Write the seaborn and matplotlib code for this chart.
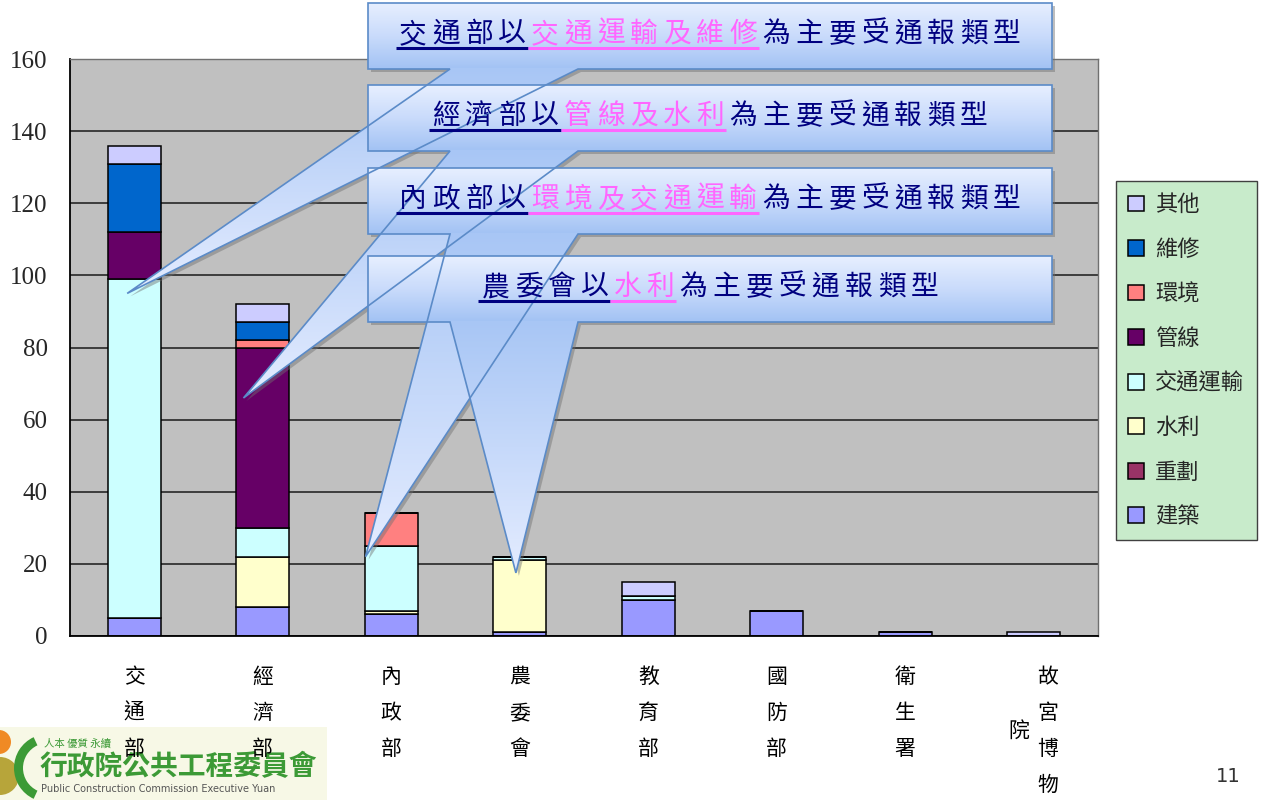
import numpy as np
import matplotlib
matplotlib.use("Agg")
import matplotlib.pyplot as plt
from matplotlib.patches import Polygon, Rectangle, Circle, Wedge
from matplotlib.colors import LinearSegmentedColormap
import seaborn as sns

sns.set_style("white")
plt.rcParams['font.family'] = ['Noto Sans CJK TC', 'DejaVu Sans']

# ---------------- data ----------------
categories = ['交通部', '經濟部', '內政部', '農委會', '教育部', '國防部', '衛生署', '故宮博物院']
# stacked from bottom to top
series_names = ['建築', '重劃', '水利', '交通運輸', '管線', '環境', '維修', '其他']
v_build   = [5, 8, 6, 1, 10, 7, 1, 0]
v_rezone  = [0, 0, 0, 0, 0, 0, 0, 0]
v_water   = [0, 14, 1, 20, 0, 0, 0, 0]
v_traffic = [94, 8, 18, 1, 1, 0, 0, 0]
v_pipe    = [13, 50, 0, 0, 0, 0, 0, 0]
v_env     = [0, 2, 9, 0, 0, 0, 0, 0]
v_repair  = [19, 5, 0, 0, 0, 0, 0, 0]
v_other   = [5, 5, 0, 0, 4, 0, 0, 1]
series_values = [v_build, v_rezone, v_water, v_traffic, v_pipe, v_env, v_repair, v_other]
series_colors = ['#9999FF', '#993366', '#FFFFCC', '#CCFFFF', '#660066', '#FF8080', '#0066CC', '#CCCCFF']
y_ticks = [0, 20, 40, 60, 80, 100, 120, 140, 160]

# callouts: (segments, tip category index, tip x offset, tip y value)
callouts = [
    ([('交通部以', '#000080', True), ('交通運輸及維修', '#FF66FF', True), ('為主要受通報類型', '#000080', False)], 0, -0.055, 95),
    ([('經濟部以', '#000080', True), ('管線及水利', '#FF66FF', True), ('為主要受通報類型', '#000080', False)], 1, -0.15, 66),
    ([('內政部以', '#000080', True), ('環境及交通運輸', '#FF66FF', True), ('為主要受通報類型', '#000080', False)], 2, -0.2, 22),
    ([('農委會以', '#000080', True), ('水利', '#FF66FF', True), ('為主要受通報類型', '#000080', False)], 3, -0.03, 17.5),
]

W, H = 1266, 800
fig = plt.figure(figsize=(W / 100, H / 100), dpi=100)
fig.patch.set_facecolor('white')

# ---------------- background (logo, page number) ----------------
bg = fig.add_axes([0, 0, 1, 1], zorder=0)
bg.set_xlim(0, W); bg.set_ylim(H, 0); bg.axis('off')
bg.add_patch(Rectangle((0, 727), 327, 73, color='#F7F8E6', lw=0))
bg.add_patch(Circle((-1, 742), 12, color='#F08A24', lw=0))
bg.add_patch(Circle((0, 776), 19, color='#B7A53A', lw=0))
bg.add_patch(Wedge((48, 768), 34, 115, 245, width=9, color='#3C9A36', lw=0))
bg.text(44, 744, '人本 優質 永續', fontsize=7.5, color='#3C9A36', ha='left', va='center')
bg.text(40, 767, '行政院公共工程委員會', fontsize=20, color='#3C9A36', ha='left', va='center', fontweight='bold')
bg.text(41, 789, 'Public Construction Commission Executive Yuan', fontsize=7, color='#555555',
        ha='left', va='center', family=['DejaVu Sans'])
bg.text(1228, 777, '11', fontsize=14, color='#333333', ha='center', va='center', family=['DejaVu Sans'])

# ---------------- main chart ----------------
ax = fig.add_axes([70 / W, (H - 636) / H, 1028 / W, 577 / H], zorder=1)
ax.set_facecolor('#C0C0C0')

bottoms = np.zeros(len(categories))
for name, vals, col in zip(series_names, series_values, series_colors):
    sns.barplot(x=categories, y=vals, order=categories, color=col, saturation=1,
                width=0.41, edgecolor='black', linewidth=1.1, bottom=bottoms,
                errorbar=None, label=name, ax=ax)
    bottoms = bottoms + np.array(vals)

ax.set_xlim(-0.5, len(categories) - 0.5)
ax.set_ylim(0, 160)
ax.set_yticks(y_ticks)
ax.set_yticklabels([str(t) for t in y_ticks], family=['Liberation Serif'], fontsize=18)
ax.yaxis.grid(True, color='#1A1A1A', lw=1.1)
ax.set_axisbelow(True)
ax.set_xlabel(''); ax.set_ylabel('')
ax.set_xticks(range(len(categories)))
ax.set_xticklabels([])
ax.set_xticks(np.arange(-0.5, len(categories), 1.0), minor=True)
ax.tick_params(axis='x', which='major', length=0)
ax.tick_params(axis='x', which='minor', direction='in', length=7, width=1, color='black')
ax.tick_params(axis='y', direction='in', length=6, width=1, color='black', pad=16)
for s in ['left', 'bottom']:
    ax.spines[s].set_color('black'); ax.spines[s].set_linewidth(1.3)
for s in ['top', 'right']:
    ax.spines[s].set_color('#707070'); ax.spines[s].set_linewidth(1.0)

# vertical category labels
for i, name in enumerate(categories):
    chars = list(name)
    if len(chars) == 5:
        placements = [(14, 41 + 36 * j) for j in range(4)] + [(-15, 95)]
    else:
        placements = [(0, 41 + 36 * j) for j in range(len(chars))]
    for ch, (dx, dy) in zip(chars, placements):
        ax.annotate(ch, xy=(i, 0), xycoords=('data', 'axes fraction'),
                    xytext=(dx * 0.72, -dy * 0.72), textcoords='offset points',
                    ha='center', va='center', fontsize=15, color='black', annotation_clip=False)

# legend
handles, labels = ax.get_legend_handles_labels()
leg = ax.legend(handles[::-1], labels[::-1], loc='upper left',
                bbox_to_anchor=(1116 / W, 1 - 181 / H), bbox_transform=fig.transFigure,
                frameon=True, fancybox=False, framealpha=1, facecolor='#C8EBCB',
                edgecolor='#404040', fontsize=16, handlelength=0.72, handleheight=0.72,
                handletextpad=0.5, labelspacing=0.97, borderpad=0.55, borderaxespad=0)
leg.get_frame().set_linewidth(1.0)

# ---------------- callouts overlay ----------------
ov = fig.add_axes([0, 0, 1, 1], zorder=3)
ov.set_xlim(0, W); ov.set_ylim(H, 0); ov.axis('off')
ov.patch.set_alpha(0)
ov.set_autoscale_on(False)

box_cmap = LinearSegmentedColormap.from_list('box', ['#E7EFFF', '#C9DBFB', '#A2C2F4'])
tail_cmap = LinearSegmentedColormap.from_list('tail', ['#A8C6F5', '#E4ECFF'])
grad = np.linspace(0, 1, 256).reshape(-1, 1)

boxes_y = [(3, 69), (85, 151), (168, 234), (256, 322)]
bx0, bx1 = 368, 1052
base_l, base_r = 450, 578
pitch = 33

for (segs, ci, dxo, yv), (y0, y1) in zip(callouts, boxes_y):
    tdx, tdy = ax.transData.transform((ci + dxo, yv))
    tipx, tipy = tdx, H - tdy
    pts = [(bx0, y0), (bx1, y0), (bx1, y1), (base_r, y1), (tipx, tipy), (base_l, y1), (bx0, y1)]
    shadow = Polygon([(x + 3, y + 3) for x, y in pts], closed=True, facecolor='#707070',
                     alpha=0.45, edgecolor='none')
    ov.add_patch(shadow)
    poly = Polygon(pts, closed=True, facecolor='none', edgecolor='#5B8BC8', lw=1.2, zorder=3)
    ov.add_patch(poly)
    clip = Polygon(pts, closed=True, facecolor='none', edgecolor='none')
    ov.add_patch(clip)
    im1 = ov.imshow(grad, extent=(bx0, bx1, y1, y0), aspect='auto', cmap=box_cmap, zorder=2)
    im1.set_clip_path(clip)
    im2 = ov.imshow(grad, extent=(min(tipx, base_l) - 2, max(tipx, base_r) + 2, max(tipy, y1), y1 - 0.5),
                    aspect='auto', cmap=tail_cmap, zorder=2)
    im2.set_clip_path(clip)

    text = ''.join(s[0] for s in segs)
    n = len(text)
    start = (bx0 + bx1) / 2 - n * pitch / 2
    yc = (y0 + y1) / 2 - 2
    k = 0
    for seg, col, ul in segs:
        sx = start + k * pitch
        for ch in seg:
            ov.text(start + (k + 0.5) * pitch, yc, ch, ha='center', va='center',
                    fontsize=20, color=col, zorder=4)
            k += 1
        if ul:
            ov.plot([sx - 1, start + k * pitch - 1], [yc + 14, yc + 14], color=col, lw=2.2,
                    solid_capstyle='butt', zorder=4)

ov.set_xlim(0, W); ov.set_ylim(H, 0)
fig.savefig('out.png', dpi=100)
